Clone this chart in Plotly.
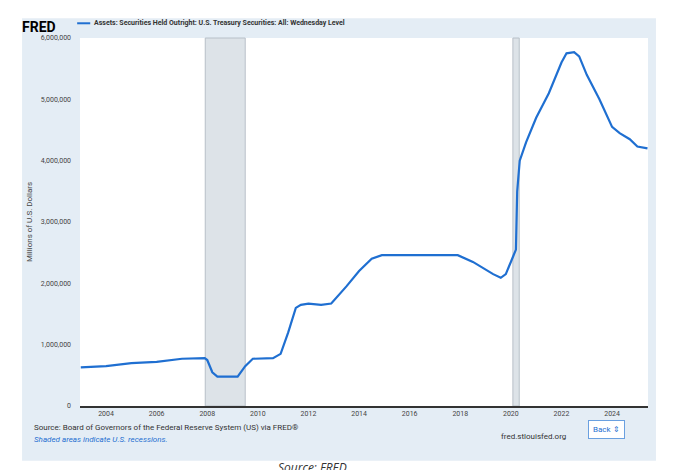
import plotly.graph_objects as go

years = [2003.0, 2004.0, 2005.0, 2006.0, 2007.0, 2007.9, 2008.0, 2008.2, 2008.4, 2009.2,
         2009.5, 2009.8, 2010.6, 2010.9, 2011.2, 2011.5, 2011.7, 2012.0, 2012.5, 2012.9,
         2013.5, 2014.0, 2014.5, 2014.9, 2016.0, 2017.9, 2018.5, 2019.3, 2019.6, 2019.8,
         2020.1, 2020.2, 2020.25, 2020.35, 2020.6, 2021.0, 2021.5, 2022.0, 2022.2, 2022.5,
         2022.7, 2023.0, 2023.5, 2024.0, 2024.3, 2024.7, 2025.0, 2025.4]
treasuries = [630000, 650000, 700000, 720000, 770000, 780000, 750000, 550000, 480000, 480000,
              650000, 770000, 780000, 850000, 1200000, 1600000, 1650000, 1670000, 1650000, 1670000,
              1950000, 2200000, 2400000, 2460000, 2460000, 2460000, 2350000, 2150000, 2090000, 2150000,
              2450000, 2550000, 3500000, 4000000, 4300000, 4700000, 5100000, 5600000, 5750000, 5770000,
              5700000, 5400000, 5000000, 4550000, 4450000, 4350000, 4230000, 4200000]
recessions = [(2007.92, 2009.5), (2020.08, 2020.33)]
tick_years = [2004, 2006, 2008, 2010, 2012, 2014, 2016, 2018, 2020, 2022, 2024]
series_name = "Assets: Securities Held Outright: U.S. Treasury Securities: All: Wednesday Level"

fig = go.Figure()
fig.add_trace(go.Scatter(
    x=years, y=treasuries, mode="lines",
    line=dict(color="#1f6fd1", width=2.2), name=series_name,
))

# blue-grey panel behind the chart
fig.add_shape(type="rect", xref="paper", yref="paper", x0=-0.102, x1=1.014, y0=-0.149, y1=1.054,
              fillcolor="#e4edf5", line_width=0, layer="below")
fig.add_shape(type="rect", xref="paper", yref="paper", x0=0, x1=1, y0=0, y1=1,
              fillcolor="white", line_width=0, layer="below")
for start, end in recessions:
    fig.add_vrect(x0=start, x1=end, fillcolor="#dde3e8", line=dict(color="#b8c0c8", width=1),
                  layer="below")

# header: logo + legend entry
fig.add_annotation(text="<b>FRED</b>", xref="paper", yref="paper", x=-0.105, y=1.058,
                   xanchor="left", yanchor="top", showarrow=False, font=dict(size=14, color="black"))
fig.add_shape(type="line", xref="paper", yref="paper", x0=-0.005, x1=0.018, y0=1.04, y1=1.04,
              line=dict(color="#1f6fd1", width=2))
fig.add_annotation(text="<b>" + series_name + "</b>", xref="paper", yref="paper", x=0.022, y=1.04,
                   xanchor="left", yanchor="middle", showarrow=False, font=dict(size=7, color="#333"))

fig.add_annotation(text="Source: Board of Governors of the Federal Reserve System (US) via FRED®",
                   xref="paper", yref="paper", x=-0.085, y=-0.075, xanchor="left", showarrow=False,
                   font=dict(size=8, color="#333"))
fig.add_annotation(text="<i>Shaded areas indicate U.S. recessions.</i>",
                   xref="paper", yref="paper", x=-0.085, y=-0.11, xanchor="left", showarrow=False,
                   font=dict(size=8, color="#1f6fd1"))
fig.add_annotation(text="fred.stlouisfed.org", xref="paper", yref="paper", x=0.86, y=-0.1,
                   showarrow=False, font=dict(size=8, color="#333"))
fig.add_annotation(text="Back ⇕", xref="paper", yref="paper", x=0.96, y=-0.09, showarrow=False,
                   font=dict(size=8, color="#1f6fd1"), bgcolor="white",
                   bordercolor="#6aa0e0", borderwidth=1, borderpad=4)
fig.add_annotation(text="<i>Source: FRED</i>", xref="paper", yref="paper", x=0.41, y=-0.195,
                   showarrow=False, font=dict(size=12, color="#333", family="Open Sans"))

fig.update_layout(
    width=677, height=470,
    margin=dict(l=72, r=37, t=30, b=72, autoexpand=False),
    paper_bgcolor="white", plot_bgcolor="white",
    font=dict(family="Roboto", size=7, color="#444"),
    showlegend=False,
    xaxis=dict(range=[2002.97, 2025.42], tickvals=tick_years, showgrid=False, automargin=False,
               showline=True, linecolor="#333", linewidth=1.5, ticks="", zeroline=False),
    yaxis=dict(range=[0, 6000000], tickvals=[0, 1e6, 2e6, 3e6, 4e6, 5e6, 6e6], automargin=False,
               ticktext=["0", "1,000,000", "2,000,000", "3,000,000", "4,000,000", "5,000,000", "6,000,000"],
               showgrid=False, zeroline=False, ticklabelstandoff=8,
               title=dict(text="Millions of U.S. Dollars", standoff=6, font=dict(size=8))),
)

fig.write_html("out.html")
